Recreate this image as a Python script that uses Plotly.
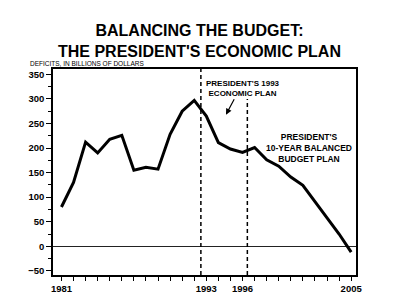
import plotly.graph_objects as go

years = [1981, 1982, 1983, 1984, 1985, 1986, 1987, 1988, 1989, 1990,
         1991, 1992, 1993, 1994, 1995, 1996, 1997, 1998, 1999, 2000,
         2001, 2002, 2003, 2004, 2005]
deficits = [80, 130, 212, 190, 218, 226, 155, 161, 157, 228,
            275, 297, 265, 211, 198, 191, 201, 176, 163, 141,
            124, 92, 58, 25, -12]
x_labels = {1981: "1981", 1993: "1993", 1996: "1996", 2005: "2005"}
y_ticks = [-50, 0, 50, 100, 150, 200, 250, 300, 350]
plan_1993_x = 1992.55
plan_10yr_x = 1996.4

FONT = "Liberation Sans, Arial, sans-serif"

fig = go.Figure()
fig.add_trace(go.Scatter(x=years, y=deficits, mode="lines",
                         line=dict(color="black", width=3),
                         hoverinfo="skip", showlegend=False))

fig.add_shape(type="line", xref="x", yref="paper", x0=plan_1993_x, x1=plan_1993_x,
              y0=0, y1=1, line=dict(color="black", width=1.5, dash="4px,3px"))
fig.add_shape(type="line", xref="x", yref="y", x0=plan_10yr_x, x1=plan_10yr_x,
              y0=-58.5, y1=300, line=dict(color="black", width=1.5, dash="4px,3px"))

fig.add_annotation(x=1996.04, y=321, xref="x", yref="y",
                   text="<b>PRESIDENT'S 1993<br>ECONOMIC PLAN</b>", showarrow=False,
                   font=dict(family=FONT, size=8, color="black"), align="center")
fig.add_annotation(x=1994.63, y=268, xref="x", yref="y", text="",
                   showarrow=True, ax=9, ay=-17, arrowhead=2, arrowsize=1,
                   arrowwidth=1.2, arrowcolor="black")
fig.add_annotation(x=2001.5, y=200, xref="x", yref="y",
                   text="<b>PRESIDENT'S<br>10-YEAR BALANCED<br>BUDGET PLAN</b>", showarrow=False,
                   font=dict(family=FONT, size=8.5, color="black"), align="center")

fig.add_annotation(x=0.4835, y=1.137, xref="paper", yref="paper",
                   text="<b>BALANCING THE BUDGET:<br>THE PRESIDENT'S ECONOMIC PLAN</b>",
                   showarrow=False, align="center", yanchor="middle",
                   font=dict(family=FONT, size=16, color="black"))
fig.add_annotation(x=-0.0825, y=1.029, xref="paper", yref="paper", xanchor="left",
                   yanchor="middle", text="DEFICITS, IN BILLIONS OF DOLLARS",
                   showarrow=False, font=dict(family=FONT, size=6.5, color="black"))

fig.update_xaxes(range=[1980.3, 2005.4], tickmode="array", tickvals=years,
                 ticktext=[x_labels.get(y, "") for y in years],
                 ticks="outside", ticklen=4, tickwidth=1.2, tickcolor="black",
                 showline=True, linecolor="black", linewidth=1.5, mirror=True,
                 showgrid=False, zeroline=False,
                 tickfont=dict(family=FONT, size=9.5, color="black", weight="bold"))
fig.update_yaxes(range=[-58.5, 361], tickmode="array", tickvals=y_ticks,
                 ticks="outside", ticklen=5, tickwidth=1.2, tickcolor="black",
                 minor=dict(tickmode="linear", tick0=-25, dtick=50, ticks="outside",
                            ticklen=3, tickcolor="black", tickwidth=1),
                 showline=True, linecolor="black", linewidth=1.5, mirror=True,
                 showgrid=False, zeroline=True, zerolinecolor="#222", zerolinewidth=1.2,
                 tickfont=dict(family=FONT, size=9.5, color="black", weight="bold"))

fig.update_layout(width=400, height=306, margin=dict(l=53, r=44, t=69, b=29),
                  paper_bgcolor="white", plot_bgcolor="white",
                  font=dict(family=FONT, color="black"))

fig.write_html("out.html")
